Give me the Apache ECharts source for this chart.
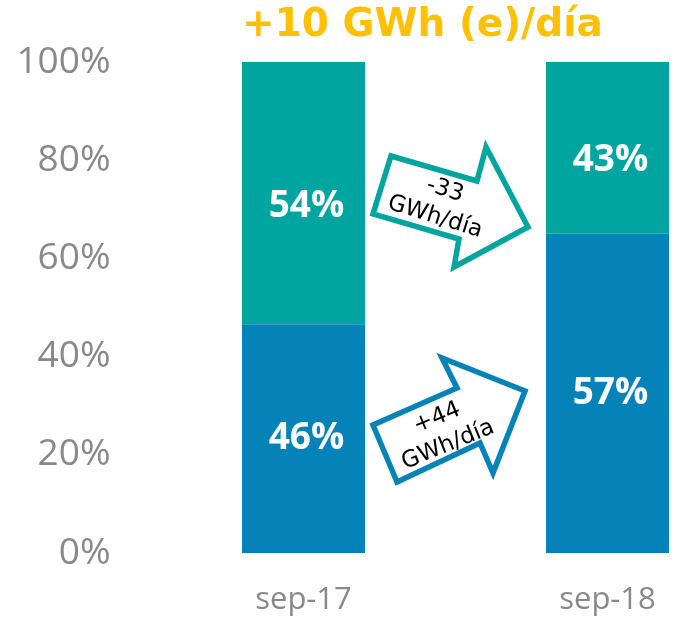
<!DOCTYPE html>
<html>
<head>
    <meta charset="utf-8">
    <title>GWh/día</title>
    <script src="https://cdn.jsdelivr.net/npm/echarts@6/dist/echarts.min.js"></script>
    <style>
        html, body { margin: 0; padding: 0; background: #fff; }
        #main { width: 675px; height: 622px; }
    </style>
</head>
<body>
    <div id="main"></div>
    <script type="text/javascript">
        // data
        var categories = ['sep-17', 'sep-18'];
        var bottomShare = [46.6, 65];   // bar heights as drawn (%)
        var topShare = [53.4, 35];
        var bottomLabels = ['46%', '57%'];
        var topLabels = ['54%', '43%'];
        var yTicks = [0, 20, 40, 60, 80, 100];

        var TEAL = '#00a5a0';
        var BLUE = '#0583b8';
        var GREY = '#898989';

        var myChart = echarts.init(document.getElementById('main'));

        function barLabel(list, dy) {
            return {
                show: true,
                position: 'inside',
                offset: [3, dy],
                color: '#fff',
                fontFamily: 'Open Sans',
                fontWeight: 'bold',
                fontSize: 37,
                formatter: function (p) { return list[p.dataIndex]; }
            };
        }

        // arrow outlines (annotations)
        function arrow(points, color) {
            return {
                type: 'polygon',
                shape: { points: points },
                style: { fill: '#fff', stroke: color, lineWidth: 5.5, lineJoin: 'miter' },
                z: 10
            };
        }
        function note(text, x, y, rot) {
            return {
                type: 'text',
                x: x, y: y, rotation: rot,
                style: {
                    text: text, fill: '#000', fontFamily: 'DejaVu Sans', fontSize: 23,
                    align: 'center', verticalAlign: 'middle'
                },
                z: 11
            };
        }

        var option = {
            animation: false,
            title: {
                text: '+10 GWh (e)/día',
                left: 237, top: 1,
                textStyle: { color: '#ffc000', fontFamily: 'DejaVu Sans', fontWeight: 'bold', fontSize: 39 }
            },
            grid: { left: 151.5, right: -84.5, top: 62, bottom: 69, outerBoundsMode: 'none', containLabel: false },
            xAxis: {
                type: 'category',
                data: categories,
                axisLine: { show: false },
                axisTick: { show: false },
                axisLabel: { color: GREY, fontFamily: 'Open Sans', fontSize: 31, margin: 32 }
            },
            yAxis: {
                type: 'value',
                min: yTicks[0], max: yTicks[yTicks.length - 1], interval: 20,
                splitLine: { show: false },
                axisLine: { show: false },
                axisTick: { show: false },
                axisLabel: { color: GREY, fontFamily: 'Open Sans', fontSize: 37, margin: 41, formatter: '{value}%' }
            },
            series: [{
                type: 'bar', stack: 'all', barWidth: 123,
                itemStyle: { color: BLUE },
                label: barLabel(bottomLabels, 0),
                data: bottomShare
            }, {
                type: 'bar', stack: 'all', barWidth: 123,
                itemStyle: { color: TEAL },
                label: barLabel(topLabels, 13),
                data: topShare
            }],
            graphic: [
                arrow([[391, 156], [477, 181], [486, 147], [528, 227], [454, 267], [459, 239], [373, 214]], TEAL),
                note('-33', 445, 190, -0.30),
                note('GWh/día', 435, 217, -0.30),
                arrow([[397, 482], [373, 425], [457, 388], [442, 358], [525, 391], [493, 473], [480, 443]], BLUE),
                note('+44', 437, 418, 0.39),
                note('GWh/día', 448, 445, 0.39)
            ]
        };

        myChart.setOption(option);
    </script>
</body>
</html>
